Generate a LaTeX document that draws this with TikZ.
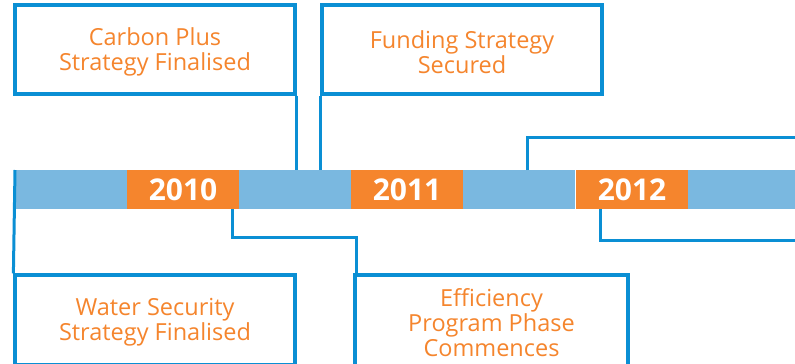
\documentclass[tikz,border=0pt]{standalone}
\usepackage{fontspec}
\setmainfont{Open Sans}
\usetikzlibrary{positioning,calc}
\definecolor{lineblue}{HTML}{0A8FD4}
\definecolor{barblue}{HTML}{7AB8E0}
\definecolor{orng}{HTML}{F5852D}
\tikzset{
  evbox/.style={draw=lineblue, line width=3.2pt, fill=white},
  evtext/.style={align=center, text=orng, font=\fontsize{23.5}{25}\selectfont, inner sep=0pt},
  seg/.style={fill=barblue, minimum width=112pt, minimum height=39pt, inner sep=0pt, outer sep=0pt},
  yr/.style={fill=orng, minimum width=112pt, minimum height=39pt, inner sep=0pt, outer sep=0pt,
    text=white, font=\bfseries\fontsize{30}{30}\selectfont},
  conn/.style={draw=lineblue, line width=3pt}
}
\begin{document}
\begin{tikzpicture}[x=1pt,y=-1pt]
\useasboundingbox (0,0) rectangle (795,364);
\clip (0,0) rectangle (795,364);
% bar
\node[seg] (b1) at (71,189.5) {};
\node[yr]  (y10) at (183,189.5) {2010};
\node[seg] (b2) at (295,189.5) {};
\node[yr]  (y11) at (407,189.5) {2011};
\node[seg] (b3) at (519,189.5) {};
\node[yr]  (y12) at (632,189.5) {2012};
\node[seg, minimum width=120pt] (b4) at (748,189.5) {};
% boxes
\node[evbox, minimum width=280pt, minimum height=89pt] (c1) at (155,49.5) {};
\node[evtext] (t1) at (155,52) {Carbon Plus\\Strategy Finalised};
\node[evbox, minimum width=280pt, minimum height=89pt] (c2) at (462,49.5) {};
\node[evtext] (t2) at (462,52) {Funding Strategy\\Secured};
\node[evbox, minimum width=280pt, minimum height=90pt] (c3) at (155,320) {};
\node[evtext] (t3) at (155,322) {Water Security\\Strategy Finalised};
\node[evbox, minimum width=273pt, minimum height=92pt] (c4) at (491.5,321) {};
\node[evtext] (t4) at (491.5,323) {Efficiency\\Program Phase\\Commences};
% connectors
\coordinate (e1) at (800,137);
\coordinate (e2) at (800,240);
\coordinate (k) at (356,237);
\draw[conn] (c1.south east) -- (c1.south east |- b2.north);
\draw[conn] (c2.south west) -- (c2.south west |- b2.north);
\draw[conn] ([xshift=8pt]b3.north) |- (e1);
\draw[conn] ([xshift=-32pt]y12.south) |- (e2);
\draw[conn] (b1.north west) -- (c3.north west);
\draw[conn] ([xshift=49pt]y10.south) |- (k) -- (k |- c4.north);
\end{tikzpicture}
\end{document}
